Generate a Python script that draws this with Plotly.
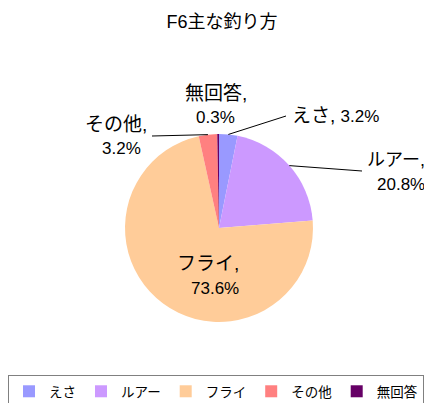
import math
import plotly.graph_objects as go

title = "F6主な釣り方"
categories = ["えさ", "ルアー", "フライ", "その他", "無回答"]
values = [3.2, 20.8, 73.6, 3.2, 0.3]
colors = ["#9999FF", "#CC99FF", "#FFCC99", "#FF8080", "#660066"]

# page is drawn with an 8px body margin, so the figure itself is 8px smaller
OFF = 8
W, H = 432 - OFF, 403 - OFF
cx, cy, R = 219, 228, 94          # pie centre / radius in window pixels
FONT = "Liberation Sans, Arial, Noto Sans CJK JP, sans-serif"

def px(x):
    return (x - OFF) / W

def py(y):
    return 1 - (y - OFF) / H

# label layout in window pixels (style only)
label_layout = {
    "えさ":   dict(end=(286, 116), name=(290, 115), value=None, anchor="left"),
    "ルアー": dict(end=(362, 171), name=(396, 160), value=(401, 185), anchor="center"),
    "フライ": dict(end=None, name=(208, 263), value=(215, 288), anchor="center"),
    "その他": dict(end=(152, 136), name=(116, 124), value=(121, 148), anchor="center"),
    "無回答": dict(end=None, name=(216, 93), value=(215, 118), anchor="center"),
}
NAME_SIZE, VALUE_SIZE = 19, 17

fig = go.Figure(go.Pie(
    labels=categories, values=values, sort=False, direction="clockwise",
    rotation=0, textinfo="none", hoverinfo="label+percent",
    marker=dict(colors=colors, line=dict(width=0)),
    domain=dict(x=[px(cx - R), px(cx + R)], y=[py(cy + R), py(cy - R)]),
))

total = sum(values)
cum = 0
shapes, annotations = [], []
for cat, v in zip(categories, values):
    mid = (cum + v / 2) / total * 2 * math.pi
    cum += v
    ex, ey = cx + R * math.sin(mid), cy - R * math.cos(mid)
    lay = label_layout[cat]
    if lay["end"] is not None:
        shapes.append(dict(type="line", xref="paper", yref="paper",
                           x0=px(ex), y0=py(ey), x1=px(lay["end"][0]), y1=py(lay["end"][1]),
                           line=dict(color="black", width=1)))
    nx, ny = lay["name"]
    if lay["value"] is None:
        txt = f"{cat}, <span style='font-size:{VALUE_SIZE}px'>{v}%</span>"
        annotations.append(dict(text=txt, xref="paper", yref="paper", x=px(nx), y=py(ny),
                                xanchor=lay["anchor"], yanchor="middle", showarrow=False,
                                font=dict(size=NAME_SIZE, color="black", family=FONT)))
    else:
        vx, vy = lay["value"]
        size = NAME_SIZE - 1 if cat == "ルアー" else NAME_SIZE
        annotations.append(dict(text=f"{cat},", xref="paper", yref="paper", x=px(nx), y=py(ny),
                                xanchor="center", yanchor="middle", showarrow=False,
                                font=dict(size=size, color="black", family=FONT)))
        annotations.append(dict(text=f"{v}%", xref="paper", yref="paper", x=px(vx), y=py(vy),
                                xanchor="center", yanchor="middle", showarrow=False,
                                font=dict(size=VALUE_SIZE, color="black", family=FONT)))

fig.update_layout(
    width=W, height=H,
    margin=dict(l=0, r=0, t=0, b=0, autoexpand=False),
    paper_bgcolor="white", plot_bgcolor="white",
    title=dict(text=title, x=px(222), y=py(22), xanchor="center", yanchor="middle",
               font=dict(size=18, color="black", family=FONT)),
    shapes=shapes, annotations=annotations,
    showlegend=True,
    legend=dict(orientation="h", x=px(8), y=py(375), xanchor="left", yanchor="top",
                bordercolor="#808080", borderwidth=1, bgcolor="white",
                font=dict(size=13.5, color="black", family=FONT),
                itemwidth=30, tracegroupgap=0),
)

fig.write_html("out.html")
